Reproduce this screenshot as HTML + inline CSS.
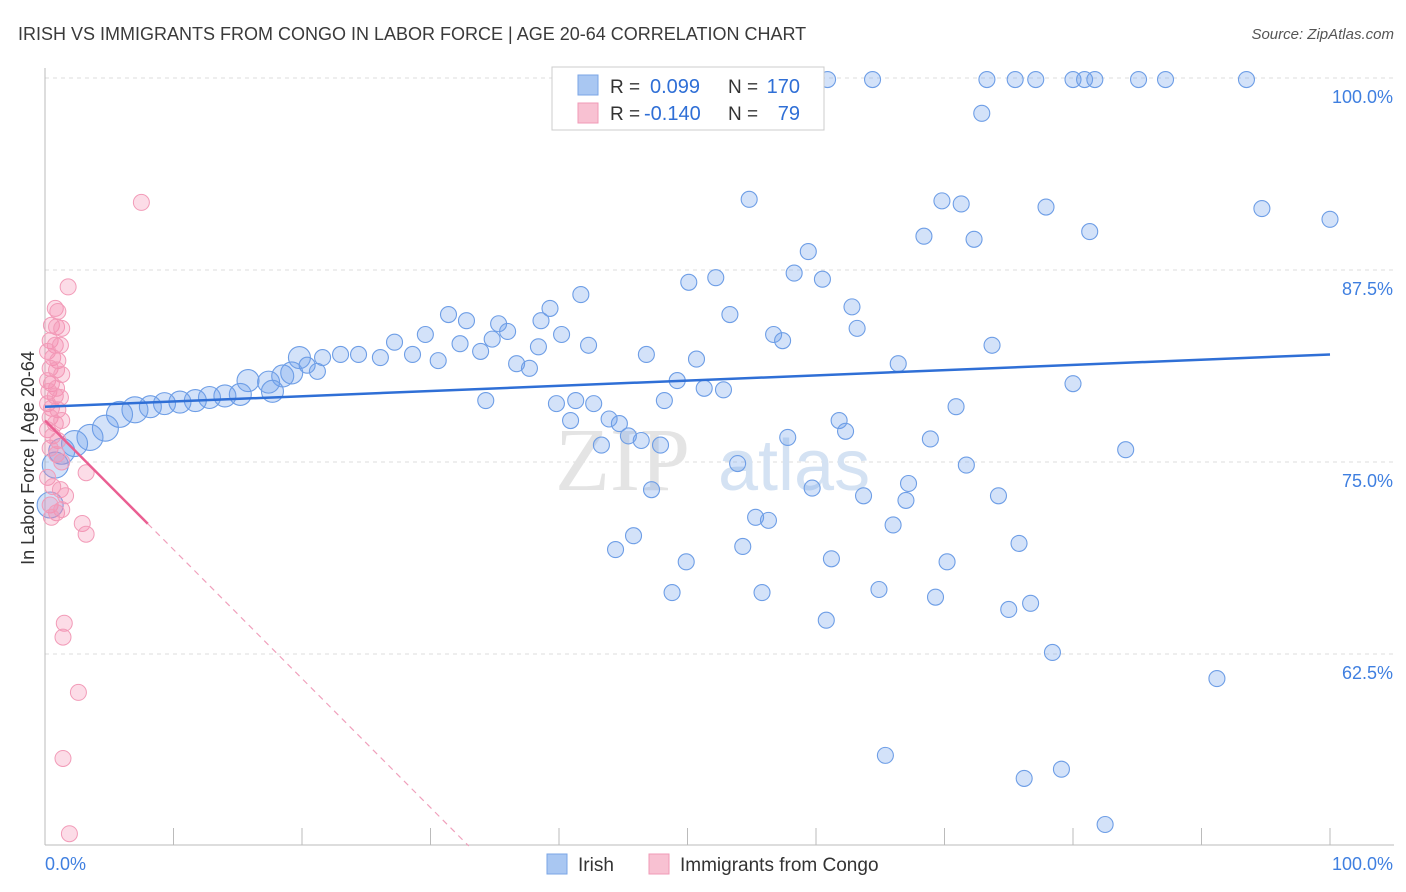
<!DOCTYPE html>
<html><head><meta charset="utf-8"><style>
body{margin:0;background:#fff;font-family:"Liberation Sans",sans-serif;}
#wrap{position:relative;width:1406px;height:892px;overflow:hidden;}
</style></head><body>
<div id="wrap">
<svg id="svg" width="1406" height="892" xmlns="http://www.w3.org/2000/svg">
<text x="18" y="40" font-size="18" fill="#3a3a3a">IRISH VS IMMIGRANTS FROM CONGO IN LABOR FORCE | AGE 20-64 CORRELATION CHART</text>
<text x="1394" y="39" font-size="15" fill="#555" font-style="italic" text-anchor="end">Source: ZipAtlas.com</text>
<text x="34" y="458" font-size="18" fill="#333" text-anchor="middle" transform="rotate(-90 34 458)">In Labor Force | Age 20-64</text>
<g id="grid"></g>
<text x="555" y="490" font-size="90" fill="#e4e4e4" font-family="Liberation Serif">ZIP</text>
<text x="718" y="490" font-size="72" fill="#d4e2f3">atlas</text>
<g id="marks"></g>
<g>
<rect x="552" y="67" width="272" height="63" fill="#fff" stroke="#ccc"/>
<rect x="578" y="75" width="20" height="20" fill="#a9c7f2" stroke="#7aa5e6"/>
<rect x="578" y="103" width="20" height="20" fill="#f8c1d2" stroke="#f09ab7"/>
<text x="610" y="93" font-size="19" fill="#333">R =</text>
<text x="650" y="93" font-size="20" fill="#2f6fd6">0.099</text>
<text x="728" y="93" font-size="19" fill="#333">N =</text>
<text x="800" y="93" font-size="20" fill="#2f6fd6" text-anchor="end">170</text>
<text x="610" y="120" font-size="19" fill="#333">R =</text>
<text x="644" y="120" font-size="20" fill="#2f6fd6">-0.140</text>
<text x="728" y="120" font-size="19" fill="#333">N =</text>
<text x="800" y="120" font-size="20" fill="#2f6fd6" text-anchor="end">79</text>
</g>
<g>
<rect x="547" y="854" width="20" height="20" fill="#a9c7f2" stroke="#7aa5e6"/>
<text x="578" y="871" font-size="19" fill="#333">Irish</text>
<rect x="649" y="854" width="20" height="20" fill="#f8c1d2" stroke="#f09ab7"/>
<text x="680" y="871" font-size="19" fill="#333">Immigrants from Congo</text>
</g>
</svg>
</div>
<script>
const yTicks=[100,87.5,75,62.5];
const yTickLabels=["100.0%","87.5%","75.0%","62.5%"];
const xTicks=[0,10,20,30,40,50,60,70,80,90,100];
const irishX=[60.9,64.4,73.3,75.5,77.1,80.0,80.9,81.7,85.1,87.2,93.5,72.9,54.8,69.8,71.3,77.9,94.7,100,68.4,72.3,81.3,59.4,58.3,60.5,52.2,50.1,41.7,39.3,62.8,53.3,31.4,32.8,35.3,38.6,63.2,56.7,57.4,40.2,36.0,34.8,32.3,42.3,38.4,33.9,73.7,46.8,50.7,66.4,36.7,37.7,30.6,29.6,28.6,27.2,26.1,24.4,23.0,21.6,19.8,20.4,21.2,19.2,18.5,17.4,15.8,17.7,15.2,14.0,12.8,11.7,10.5,9.3,8.2,7.0,5.8,4.7,3.5,2.3,1.3,0.8,0.4,49.2,51.3,52.8,80.0,34.3,39.8,41.3,42.7,48.2,70.9,40.9,43.9,44.7,45.4,46.4,47.9,43.3,61.8,62.3,57.8,68.9,84.1,53.9,71.7,47.2,59.7,63.7,67.2,67.0,74.2,55.3,56.3,66.0,45.8,44.4,54.3,75.8,49.9,61.2,70.2,48.8,55.8,64.9,69.3,75.0,76.7,60.8,78.4,91.2,65.4,76.2,79.1,82.5];
const irishY=[99.9,99.9,99.9,99.9,99.9,99.9,99.9,99.9,99.9,99.9,99.9,97.7,92.1,92.0,91.8,91.6,91.5,90.8,89.7,89.5,90.0,88.7,87.3,86.9,87.0,86.7,85.9,85.0,85.1,84.6,84.6,84.2,84.0,84.2,83.7,83.3,82.9,83.3,83.5,83.0,82.7,82.6,82.5,82.2,82.6,82.0,81.7,81.4,81.4,81.1,81.6,83.3,82.0,82.8,81.8,82.0,82.0,81.8,81.8,81.3,80.9,80.8,80.6,80.2,80.3,79.6,79.4,79.3,79.2,79.0,78.9,78.8,78.6,78.4,78.1,77.2,76.6,76.2,75.7,74.8,72.2,80.3,79.8,79.7,80.1,79.0,78.8,79.0,78.8,79.0,78.6,77.7,77.8,77.5,76.7,76.4,76.1,76.1,77.7,77.0,76.6,76.5,75.8,74.9,74.8,73.2,73.3,72.8,73.6,72.5,72.8,71.4,71.2,70.9,70.2,69.3,69.5,69.7,68.5,68.7,68.5,66.5,66.5,66.7,66.2,65.4,65.8,64.7,62.6,60.9,55.9,54.4,55.0,51.4];
const congoX=[7.5,1.8,0.8,1.0,0.5,0.9,1.3,0.4,0.8,1.2,0.2,0.6,1.0,0.4,0.9,1.3,0.2,0.5,0.9,0.3,0.8,1.2,0.2,0.5,1.0,0.4,0.8,1.3,0.2,0.6,1.0,0.4,0.9,1.3,3.2,0.2,0.6,1.2,1.6,0.4,0.9,1.3,0.5,2.9,3.2,1.5,1.4,2.6,1.4,1.9];
const congoY=[91.9,86.4,85.0,84.8,83.9,83.8,83.7,82.9,82.6,82.6,82.2,81.8,81.6,81.1,81.0,80.7,80.3,80.1,79.8,79.6,79.3,79.2,78.8,78.5,78.4,77.9,77.5,77.7,77.1,76.7,76.4,75.9,75.5,75.0,74.3,74.0,73.4,73.2,72.8,72.2,71.7,71.9,71.4,71.0,70.3,64.5,63.6,60.0,55.7,50.8];
const irishTrend=[78.6,82.0];
const congoTrend=[77.7,-0.84];
const X=v=>45+v*12.85, Y=v=>78+(100-v)*15.36;
const NS="http://www.w3.org/2000/svg";
function mk(t,a,p){const e=document.createElementNS(NS,t);for(const k in a)e.setAttribute(k,a[k]);p.appendChild(e);return e;}
const grid=document.getElementById('grid'),marks=document.getElementById('marks');
yTicks.forEach((t,i)=>{
 const l=mk('line',{x1:45,x2:1394,y1:Y(t),y2:Y(t),stroke:'#ddd','stroke-dasharray':'4,4'},grid);
 
 
 const tx=mk('text',{x:1393,y:Y(t)+25,'font-size':18,fill:'#3f7fe0','text-anchor':'end'},grid);
 tx.textContent=yTickLabels[i];
 
 
});
const ax=mk('line',{x1:45,x2:1394,y1:845,y2:845,stroke:'#bbb'},grid);


const ay=mk('line',{x1:45,x2:45,y1:68,y2:845,stroke:'#bbb'},grid);


xTicks.forEach(t=>{const l=mk('line',{x1:X(t),x2:X(t),y1:828,y2:845,stroke:'#bbb'},grid);
 
 });
const xl0=mk('text',{x:45,y:870,'font-size':18,fill:'#3f7fe0'},grid);xl0.textContent='0.0%';


const xl1=mk('text',{x:1393,y:870,'font-size':18,fill:'#3f7fe0','text-anchor':'end'},grid);xl1.textContent='100.0%';


irishX.forEach((x,i)=>{const r=x<20?(x<8?13:11):8;
 const c=mk('circle',{cx:X(x),cy:Y(irishY[i]),r:r,fill:'rgba(110,160,235,0.3)',stroke:'#6e9ee6','stroke-width':1.1},marks);
 
 });
congoX.forEach((x,i)=>{
 const c=mk('circle',{cx:X(x),cy:Y(congoY[i]),r:8,fill:'rgba(245,140,175,0.3)',stroke:'#f29bb8','stroke-width':1},marks);
 
 });
const bt=mk('line',{x1:X(0),y1:Y(irishTrend[0]),x2:X(100),y2:Y(irishTrend[1]),stroke:'#2f6fd6','stroke-width':2.5},marks);


const cy=x=>congoTrend[0]+congoTrend[1]*x;
const xEnd=(congoTrend[0]-50)/-congoTrend[1];
const pt=mk('line',{x1:X(0),y1:Y(cy(0)),x2:X(8),y2:Y(cy(8)),stroke:'#ea5f92','stroke-width':2.5},marks);


const pd=mk('line',{x1:X(8),y1:Y(cy(8)),x2:X(xEnd),y2:Y(50),stroke:'#f0a0bc','stroke-width':1.2,'stroke-dasharray':'6,5'},marks);


</script>
</body></html>
